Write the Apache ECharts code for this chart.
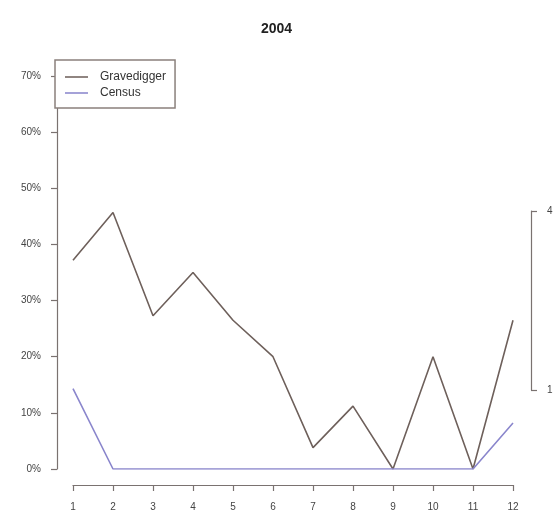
<!DOCTYPE html>
<html>
<head>
<meta charset="utf-8">
<script src="https://cdn.jsdelivr.net/npm/echarts@6/dist/echarts.min.js"></script>
<style>html,body{margin:0;padding:0;background:#fff;}#c{width:553px;height:517px;}</style>
</head>
<body>
<div id="c"></div>
<script>
const title = '2004';
const months = [1,2,3,4,5,6,7,8,9,10,11,12];
const gravedigger = [37.2, 45.7, 27.3, 35.0, 26.5, 20.0, 3.8, 11.2, 0, 20.0, 0, 26.5];
const census = [14.3, 0, 0, 0, 0, 0, 0, 0, 0, 0, 0, 8.2];
const yTicks = [0, 10, 20, 30, 40, 50, 60, 70];
const rightTicks = [1, 4];

const axisGray = '#7a7270';
const textGray = '#444';
const font = 'Liberation Sans, Arial, Helvetica, sans-serif';
const lineIcon = 'path://M0,0 H24 V1.6 H0 Z';

const chart = echarts.init(document.getElementById('c'), null, {renderer: 'canvas'});
chart.setOption({
  backgroundColor: '#fff',
  animation: false,
  title: {
    text: title, left: 'center', top: 17,
    textStyle: {fontFamily: font, fontSize: 14, fontWeight: 'bold', color: '#222'}
  },
  legend: {
    orient: 'vertical', left: 55, top: 60,
    padding: [11, 9, 9, 10],
    itemWidth: 23, itemHeight: 14, itemGap: 4,
    backgroundColor: '#fff', borderColor: '#8a807c', borderWidth: 1.5, borderRadius: 0,
    textStyle: {fontFamily: font, fontSize: 12, color: '#333', padding: [0, 0, 0, 7]},
    data: [{name: 'Gravedigger', icon: lineIcon}, {name: 'Census', icon: lineIcon}]
  },
  grid: [
    {left: 73, right: 40, top: 76, bottom: 48, outerBoundsMode: 'none'},
    {left: 200, right: 22, top: 211, bottom: 127, containLabel: false, outerBoundsMode: 'none'}
  ],
  xAxis: [
    {
      type: 'value', gridIndex: 0, min: 1, max: 12, interval: 1, offset: 16,
      axisLine: {show: true, onZero: false, lineStyle: {color: axisGray, width: 1.2}},
      axisTick: {show: true, length: 6, lineStyle: {color: axisGray, width: 1.2}},
      axisLabel: {color: textGray, fontSize: 10, fontFamily: font, margin: 17},
      splitLine: {show: false}
    },
    {type: 'value', gridIndex: 1, show: false, min: 0, max: 1}
  ],
  yAxis: [
    {
      type: 'value', gridIndex: 0, min: 0, max: 70, interval: 10, offset: 16,
      axisLine: {show: true, onZero: false, lineStyle: {color: axisGray, width: 1.2}},
      axisTick: {show: true, length: 6, lineStyle: {color: axisGray, width: 1.2}},
      axisLabel: {color: textGray, fontSize: 10, fontFamily: font, margin: 16,
        formatter: v => (yTicks.includes(v) ? v + '%' : '')},
      splitLine: {show: false}
    },
    {
      type: 'value', gridIndex: 1, position: 'right', min: rightTicks[0], max: rightTicks[1], interval: 3,
      axisLine: {show: true, onZero: false, lineStyle: {color: axisGray, width: 1.2}},
      axisTick: {show: true, length: 6, lineStyle: {color: axisGray, width: 1.2}},
      axisLabel: {color: textGray, fontSize: 10, fontFamily: font, margin: 16},
      splitLine: {show: false}
    }
  ],
  series: [
    {
      name: 'Gravedigger', type: 'line', xAxisIndex: 0, yAxisIndex: 0, symbol: 'none',
      color: '#6e605b', lineStyle: {color: '#6e605b', width: 1.6},
      data: months.map((m, i) => [m, gravedigger[i]])
    },
    {
      name: 'Census', type: 'line', xAxisIndex: 0, yAxisIndex: 0, symbol: 'none',
      color: '#8a86cc', lineStyle: {color: '#8a86cc', width: 1.6},
      data: months.map((m, i) => [m, census[i]])
    }
  ]
});
</script>
</body>
</html>
